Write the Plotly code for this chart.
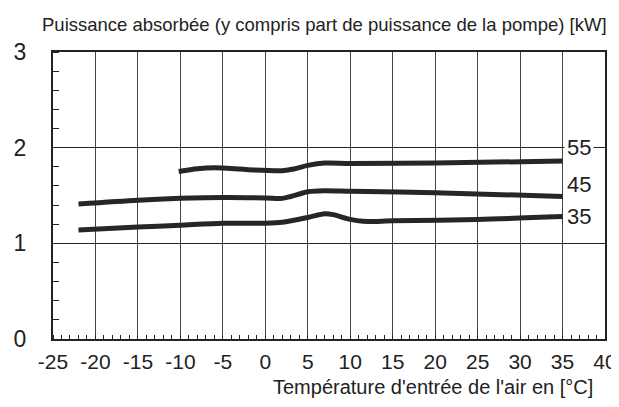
import plotly.graph_objects as go

# --- data ---
x35 = [-22, -15, -10, -5, 0, 2, 5, 7, 8, 10, 11.5, 15, 25, 35]
y35 = [1.14, 1.17, 1.19, 1.21, 1.21, 1.22, 1.27, 1.31, 1.30, 1.25, 1.23, 1.235, 1.25, 1.28]

x45 = [-22, -15, -10, -5, 0, 2, 3, 5, 7, 10, 20, 35]
y45 = [1.41, 1.45, 1.47, 1.48, 1.475, 1.47, 1.49, 1.54, 1.55, 1.545, 1.53, 1.49]

x55 = [-10.2, -8, -6, -2, 2, 3.5, 5, 7, 10, 20, 35]
y55 = [1.75, 1.78, 1.79, 1.77, 1.76, 1.78, 1.815, 1.84, 1.835, 1.84, 1.86]

series_names = ["35", "45", "55"]
label_y = [1.28, 1.61, 2.0]

x_ticks = list(range(-25, 41, 5))
y_ticks = [0, 1, 2, 3]

FONT = "Liberation Sans, Arial, sans-serif"
LINE = "#262626"

fig = go.Figure()
for xs, ys in [(x35, y35), (x45, y45), (x55, y55)]:
    fig.add_trace(go.Scatter(x=xs, y=ys, mode="lines",
                             line=dict(color=LINE, width=5, shape="spline", smoothing=0.8),
                             showlegend=False, hoverinfo="skip"))

for name, ly in zip(series_names, label_y):
    fig.add_annotation(x=35.2, y=ly, xref="x", yref="y", text=name, showarrow=False,
                       xanchor="left", yanchor="middle", bgcolor="white", borderpad=2,
                       font=dict(family=FONT, size=22, color="#222"))

fig.add_annotation(x=1.0, y=1.0, xref="paper", yref="paper", yshift=15, xshift=4,
                   text="Puissance absorbée (y compris part de puissance de la pompe) [kW]",
                   showarrow=False, xanchor="right", yanchor="bottom",
                   font=dict(family=FONT, size=18.5, color="#222"))
fig.add_annotation(x=1.0, y=0, xref="paper", yref="paper", yshift=-35, xshift=-10,
                   text="Température d'entrée de l'air en [°C]",
                   showarrow=False, xanchor="right", yanchor="top",
                   font=dict(family=FONT, size=20, color="#222"))

fig.update_layout(
    width=619, height=407,
    margin=dict(l=45, r=22, t=44, b=76),
    paper_bgcolor="white", plot_bgcolor="white",
    font=dict(family=FONT, color="#222"),
)
fig.update_xaxes(
    range=[-25, 40], tickvals=x_ticks, ticktext=[str(v) for v in x_ticks],
    showgrid=True, gridcolor="#444", gridwidth=1,
    showline=True, linecolor="#222", linewidth=2, mirror=True,
    ticks="", tickfont=dict(family=FONT, size=21, color="#222"),
    ticklabelstandoff=3, automargin=False,
    minor=dict(dtick=1, tick0=0, ticks="inside", ticklen=4, tickcolor="#222", tickwidth=1, showgrid=False),
    zeroline=False,
)
fig.update_yaxes(
    range=[0, 3], tickvals=y_ticks, ticktext=[str(v) for v in y_ticks],
    showgrid=True, gridcolor="#222", gridwidth=1,
    showline=True, linecolor="#222", linewidth=2, mirror=True,
    ticks="", tickfont=dict(family=FONT, size=23, color="#222"),
    ticklabelstandoff=20, automargin=False,
    minor=dict(dtick=0.2, tick0=0, ticks="inside", ticklen=6, tickcolor="#222", tickwidth=1, showgrid=False),
    zeroline=False,
)

fig.write_html("out.html")
